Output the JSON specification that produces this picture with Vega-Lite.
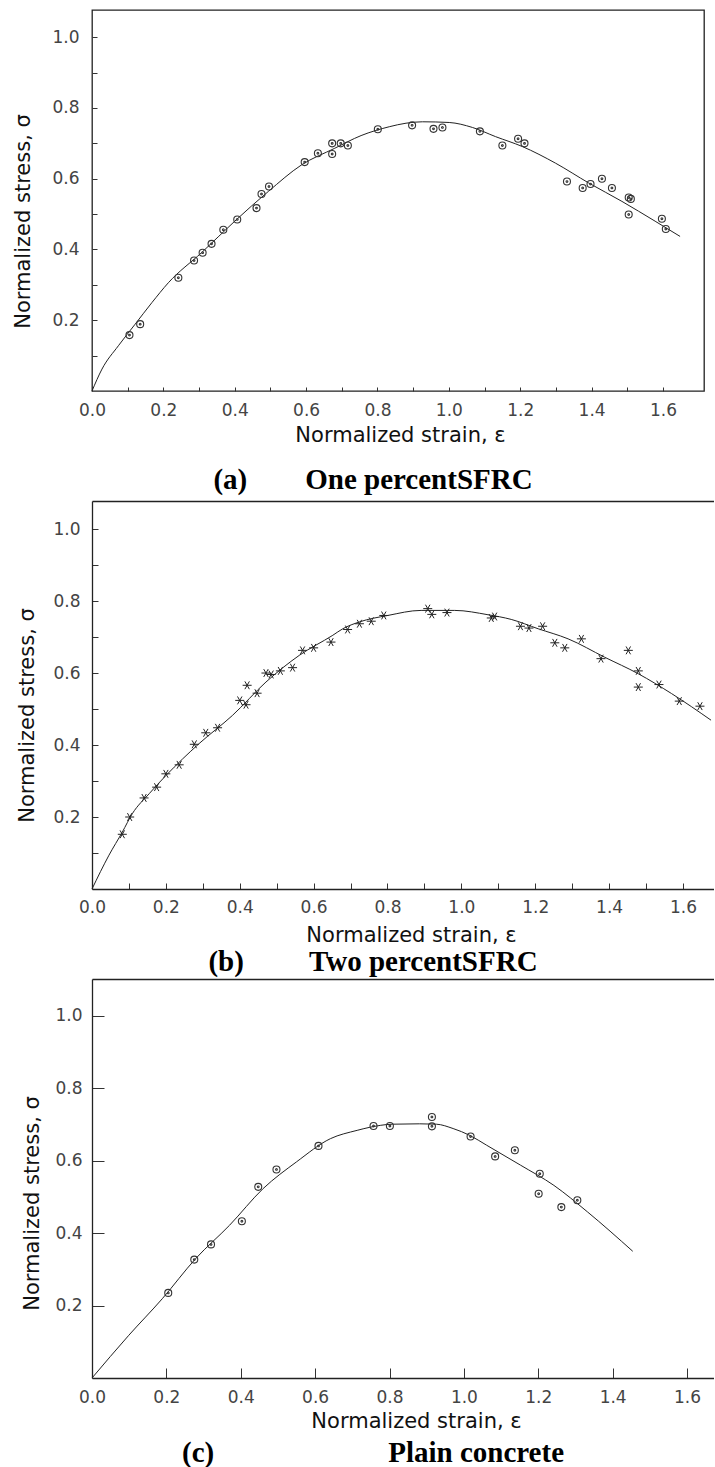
{
  "$schema": "https://vega.github.io/schema/vega-lite/v6.json",
  "padding": {"left": 11, "top": 9, "right": 0, "bottom": 0},
  "background": "white",
  "config": {
    "view": {"stroke": null},
    "axis": {
      "grid": false,
      "labelFont": "DejaVu Sans",
      "labelFontSize": 17,
      "labelColor": "#444",
      "titleFont": "DejaVu Sans",
      "titleFontSize": 21,
      "titleFontWeight": "normal",
      "titleColor": "#111",
      "tickColor": "#333",
      "tickWidth": 1,
      "domainColor": "#222",
      "domainWidth": 1.3,
      "labelFlush": false,
      "labelOverlap": false,
      "labelBound": false
    }
  },
  "datasets": {
    "a_pts": [
      {"x": 0.105, "y": 0.158}, {"x": 0.135, "y": 0.189}, {"x": 0.242, "y": 0.32}, {"x": 0.286, "y": 0.369},
      {"x": 0.31, "y": 0.391}, {"x": 0.335, "y": 0.416}, {"x": 0.368, "y": 0.456}, {"x": 0.407, "y": 0.485},
      {"x": 0.461, "y": 0.517}, {"x": 0.475, "y": 0.557}, {"x": 0.496, "y": 0.578}, {"x": 0.596, "y": 0.647},
      {"x": 0.633, "y": 0.672}, {"x": 0.673, "y": 0.7}, {"x": 0.673, "y": 0.67}, {"x": 0.697, "y": 0.7},
      {"x": 0.717, "y": 0.694}, {"x": 0.801, "y": 0.74}, {"x": 0.897, "y": 0.751}, {"x": 0.957, "y": 0.741},
      {"x": 0.982, "y": 0.745}, {"x": 1.087, "y": 0.734}, {"x": 1.15, "y": 0.694}, {"x": 1.194, "y": 0.713},
      {"x": 1.212, "y": 0.7}, {"x": 1.331, "y": 0.592}, {"x": 1.375, "y": 0.574}, {"x": 1.397, "y": 0.585},
      {"x": 1.429, "y": 0.6}, {"x": 1.457, "y": 0.574}, {"x": 1.504, "y": 0.547}, {"x": 1.51, "y": 0.543},
      {"x": 1.504, "y": 0.499}, {"x": 1.597, "y": 0.487}, {"x": 1.608, "y": 0.458}
    ],
    "a_curve": [
      {"x": 0, "y": 0}, {"x": 0.028, "y": 0.062}, {"x": 0.074, "y": 0.128}, {"x": 0.121, "y": 0.189},
      {"x": 0.168, "y": 0.25}, {"x": 0.214, "y": 0.306}, {"x": 0.307, "y": 0.391}, {"x": 0.4, "y": 0.48},
      {"x": 0.494, "y": 0.564}, {"x": 0.587, "y": 0.639}, {"x": 0.68, "y": 0.686}, {"x": 0.754, "y": 0.722},
      {"x": 0.833, "y": 0.747}, {"x": 0.88, "y": 0.757}, {"x": 0.926, "y": 0.761}, {"x": 1.001, "y": 0.759},
      {"x": 1.066, "y": 0.745}, {"x": 1.131, "y": 0.719}, {"x": 1.206, "y": 0.691}, {"x": 1.299, "y": 0.644},
      {"x": 1.392, "y": 0.588}, {"x": 1.485, "y": 0.536}, {"x": 1.578, "y": 0.48}, {"x": 1.648, "y": 0.437}
    ],
    "b_pts": [
      {"x": 0.082, "y": 0.152}, {"x": 0.102, "y": 0.2}, {"x": 0.141, "y": 0.253}, {"x": 0.175, "y": 0.283},
      {"x": 0.2, "y": 0.32}, {"x": 0.236, "y": 0.345}, {"x": 0.277, "y": 0.402}, {"x": 0.308, "y": 0.434},
      {"x": 0.34, "y": 0.448}, {"x": 0.4, "y": 0.524}, {"x": 0.417, "y": 0.512}, {"x": 0.42, "y": 0.566},
      {"x": 0.447, "y": 0.544}, {"x": 0.471, "y": 0.6}, {"x": 0.485, "y": 0.596}, {"x": 0.51, "y": 0.606},
      {"x": 0.543, "y": 0.615}, {"x": 0.57, "y": 0.663}, {"x": 0.6, "y": 0.67}, {"x": 0.647, "y": 0.686},
      {"x": 0.692, "y": 0.721}, {"x": 0.724, "y": 0.737}, {"x": 0.756, "y": 0.744}, {"x": 0.79, "y": 0.76},
      {"x": 0.909, "y": 0.779}, {"x": 0.92, "y": 0.763}, {"x": 0.961, "y": 0.768}, {"x": 1.081, "y": 0.753},
      {"x": 1.09, "y": 0.757}, {"x": 1.16, "y": 0.73}, {"x": 1.183, "y": 0.725}, {"x": 1.22, "y": 0.73},
      {"x": 1.253, "y": 0.684}, {"x": 1.28, "y": 0.67}, {"x": 1.325, "y": 0.695}, {"x": 1.378, "y": 0.64},
      {"x": 1.452, "y": 0.663}, {"x": 1.479, "y": 0.606}, {"x": 1.479, "y": 0.561}, {"x": 1.535, "y": 0.568},
      {"x": 1.59, "y": 0.522}, {"x": 1.646, "y": 0.508}
    ],
    "b_curve": [
      {"x": 0, "y": 0}, {"x": 0.046, "y": 0.094}, {"x": 0.082, "y": 0.158}, {"x": 0.109, "y": 0.209},
      {"x": 0.155, "y": 0.265}, {"x": 0.2, "y": 0.315}, {"x": 0.29, "y": 0.404}, {"x": 0.38, "y": 0.482},
      {"x": 0.471, "y": 0.575}, {"x": 0.561, "y": 0.649}, {"x": 0.652, "y": 0.705}, {"x": 0.679, "y": 0.723},
      {"x": 0.724, "y": 0.742}, {"x": 0.801, "y": 0.76}, {"x": 0.891, "y": 0.774}, {"x": 0.982, "y": 0.774},
      {"x": 1.072, "y": 0.762}, {"x": 1.135, "y": 0.749}, {"x": 1.208, "y": 0.723}, {"x": 1.289, "y": 0.695},
      {"x": 1.388, "y": 0.644}, {"x": 1.479, "y": 0.598}, {"x": 1.569, "y": 0.543}, {"x": 1.676, "y": 0.469}
    ],
    "c_pts": [
      {"x": 0.205, "y": 0.235}, {"x": 0.275, "y": 0.327}, {"x": 0.32, "y": 0.369}, {"x": 0.403, "y": 0.433},
      {"x": 0.447, "y": 0.528}, {"x": 0.496, "y": 0.576}, {"x": 0.609, "y": 0.641}, {"x": 0.757, "y": 0.696},
      {"x": 0.801, "y": 0.696}, {"x": 0.914, "y": 0.721}, {"x": 0.914, "y": 0.695}, {"x": 1.018, "y": 0.667},
      {"x": 1.084, "y": 0.612}, {"x": 1.137, "y": 0.629}, {"x": 1.204, "y": 0.564}, {"x": 1.201, "y": 0.509},
      {"x": 1.262, "y": 0.472}, {"x": 1.305, "y": 0.491}
    ],
    "c_curve": [
      {"x": 0, "y": 0}, {"x": 0.099, "y": 0.118}, {"x": 0.189, "y": 0.219}, {"x": 0.279, "y": 0.33},
      {"x": 0.37, "y": 0.422}, {"x": 0.46, "y": 0.523}, {"x": 0.55, "y": 0.597}, {"x": 0.641, "y": 0.661},
      {"x": 0.713, "y": 0.684}, {"x": 0.745, "y": 0.692}, {"x": 0.808, "y": 0.701}, {"x": 0.881, "y": 0.702},
      {"x": 0.926, "y": 0.701}, {"x": 0.971, "y": 0.689}, {"x": 1.016, "y": 0.67}, {"x": 1.061, "y": 0.643},
      {"x": 1.152, "y": 0.588}, {"x": 1.242, "y": 0.532}, {"x": 1.332, "y": 0.459}, {"x": 1.454, "y": 0.35}
    ]
  },
  "spacing": 5,
  "bounds": "full",
  "vconcat": [
    {
      "width": 612,
      "height": 381,
      "view": {"stroke": "#222", "strokeWidth": 1.3},
      "title": {
        "text": "(a)\u00a0\u00a0\u00a0\u00a0\u00a0\u00a0\u00a0\u00a0One percentSFRC",
        "orient": "bottom", "anchor": "middle", "dx": -25, "offset": 44, "baseline": "alphabetic",
        "font": "Liberation Serif", "fontSize": 29, "fontWeight": "bold", "color": "#000"
      },
      "encoding": {
        "x": {
          "field": "x", "type": "quantitative",
          "scale": {"domain": [0, 1.715], "nice": false, "zero": false},
          "axis": {
            "title": "Normalized strain, ε",
            "values": [0, 0.1, 0.2, 0.3, 0.4, 0.5, 0.6, 0.7, 0.8, 0.9, 1, 1.1, 1.2, 1.3, 1.4, 1.5, 1.6],
            "labelExpr": "round(datum.value*10)%2==0 ? format(datum.value,'.1f') : ''",
            "tickSize": -4, "labelPadding": 15, "domain": false,
            "titleX": 308, "titleY": 50, "titleBaseline": "alphabetic"
          }
        },
        "y": {
          "field": "y", "type": "quantitative",
          "scale": {"domain": [0, 1.077], "nice": false, "zero": false},
          "axis": {
            "title": "Normalized stress, σ",
            "values": [0.1, 0.2, 0.3, 0.4, 0.5, 0.6, 0.7, 0.8, 0.9, 1],
            "labelExpr": "round(datum.value*10)%2==0 ? format(datum.value,'.1f') : ''",
            "tickSize": -5, "labelPadding": 18, "domain": false,
            "titleX": -59, "titleY": 211, "titleBaseline": "bottom", "titleAngle": -90, "titleAlign": "center"
          }
        }
      },
      "layer": [
        {"data": {"name": "a_curve"}, "mark": {"type": "line", "interpolate": "monotone", "color": "#222", "strokeWidth": 1}},
        {"data": {"name": "a_pts"}, "mark": {"type": "point", "shape": "M1,0A1,1,0,1,1,-1,0A1,1,0,1,1,1,0M0.25,0A0.25,0.25,0,1,1,-0.25,0A0.25,0.25,0,1,1,0.25,0", "size": 49, "filled": false, "stroke": "#333", "strokeWidth": 1.1, "opacity": 1}}
      ]
    },
    {
      "spacing": 90,
      "bounds": "flush",
      "vconcat": [
        {
          "width": 622,
          "height": 388,
          "title": {
            "text": "(b)\u00a0\u00a0\u00a0\u00a0\u00a0\u00a0\u00a0\u00a0\u00a0Two percentSFRC",
            "orient": "bottom", "anchor": "middle", "dx": -30, "offset": 26, "baseline": "alphabetic",
            "font": "Liberation Serif", "fontSize": 29, "fontWeight": "bold", "color": "#000"
          },
          "encoding": {
            "x": {
              "field": "x", "type": "quantitative",
              "scale": {"domain": [0, 1.684], "nice": false, "zero": false},
              "axis": {
                "title": "Normalized strain, ε",
                "values": [0, 0.1, 0.2, 0.3, 0.4, 0.5, 0.6, 0.7, 0.8, 0.9, 1, 1.1, 1.2, 1.3, 1.4, 1.5, 1.6],
                "labelExpr": "round(datum.value*10)%2==0 ? format(datum.value,'.1f') : ''",
                "tickSize": -6, "labelPadding": 16, "domain": true,
                "titleX": 319, "titleY": 52, "titleBaseline": "alphabetic"
              }
            },
            "y": {
              "field": "y", "type": "quantitative",
              "scale": {"domain": [0, 1.078], "nice": false, "zero": false},
              "axis": {
                "title": "Normalized stress, σ",
                "values": [0.1, 0.2, 0.3, 0.4, 0.5, 0.6, 0.7, 0.8, 0.9, 1],
                "labelExpr": "round(datum.value*10)%2==0 ? format(datum.value,'.1f') : ''",
                "tickSize": -6, "labelPadding": 18, "domain": true,
                "titleX": -55, "titleY": 214, "titleBaseline": "bottom", "titleAngle": -90, "titleAlign": "center"
              }
            }
          },
          "layer": [
            {"data": {"name": "b_curve"}, "mark": {"type": "line", "interpolate": "monotone", "color": "#222", "strokeWidth": 1}},
            {
              "data": {"name": "b_pts"},
              "mark": {"type": "point", "shape": "M-1,0L1,0M-0.5,-0.87L0.5,0.87M-0.5,0.87L0.5,-0.87", "size": 81, "filled": false, "stroke": "#222", "strokeWidth": 1, "opacity": 1},
              "encoding": {
                "x": {
                  "field": "x", "type": "quantitative",
                  "scale": {"domain": [0, 1.684], "nice": false, "zero": false},
                  "axis": {"orient": "top", "labels": false, "ticks": false, "title": null, "domain": true}
                }
              }
            }
          ],
          "resolve": {"axis": {"x": "independent"}}
        },
        {
          "width": 622,
          "height": 399,
          "title": {
            "text": "(c)\u00a0\u00a0\u00a0\u00a0\u00a0\u00a0\u00a0\u00a0\u00a0\u00a0\u00a0\u00a0\u00a0\u00a0\u00a0\u00a0\u00a0\u00a0\u00a0\u00a0\u00a0\u00a0\u00a0\u00a0Plain concrete",
            "orient": "bottom", "anchor": "middle", "dx": -30, "offset": 31, "baseline": "alphabetic",
            "font": "Liberation Serif", "fontSize": 29, "fontWeight": "bold", "color": "#000"
          },
          "encoding": {
            "x": {
              "field": "x", "type": "quantitative",
              "scale": {"domain": [0, 1.6725], "nice": false, "zero": false},
              "axis": {
                "title": "Normalized strain, ε",
                "values": [0, 0.2, 0.4, 0.6, 0.8, 1, 1.2, 1.4, 1.6],
                "format": ".1f",
                "tickSize": -10, "labelPadding": 21, "domain": true,
                "titleX": 324, "titleY": 49, "titleBaseline": "alphabetic"
              }
            },
            "y": {
              "field": "y", "type": "quantitative",
              "scale": {"domain": [0, 1.102], "nice": false, "zero": false},
              "axis": {
                "title": "Normalized stress, σ",
                "values": [0.2, 0.4, 0.6, 0.8, 1],
                "format": ".1f",
                "tickSize": -12, "labelPadding": 22, "domain": true,
                "titleX": -50, "titleY": 224, "titleBaseline": "bottom", "titleAngle": -90, "titleAlign": "center"
              }
            }
          },
          "layer": [
            {"data": {"name": "c_curve"}, "mark": {"type": "line", "interpolate": "monotone", "color": "#222", "strokeWidth": 1}},
            {
              "data": {"name": "c_pts"},
              "mark": {"type": "point", "shape": "M1,0A1,1,0,1,1,-1,0A1,1,0,1,1,1,0M0.25,0A0.25,0.25,0,1,1,-0.25,0A0.25,0.25,0,1,1,0.25,0", "size": 49, "filled": false, "stroke": "#333", "strokeWidth": 1.1, "opacity": 1},
              "encoding": {
                "x": {
                  "field": "x", "type": "quantitative",
                  "scale": {"domain": [0, 1.6725], "nice": false, "zero": false},
                  "axis": {"orient": "top", "labels": false, "ticks": false, "title": null, "domain": true}
                }
              }
            }
          ],
          "resolve": {"axis": {"x": "independent"}}
        }
      ]
    }
  ]
}
